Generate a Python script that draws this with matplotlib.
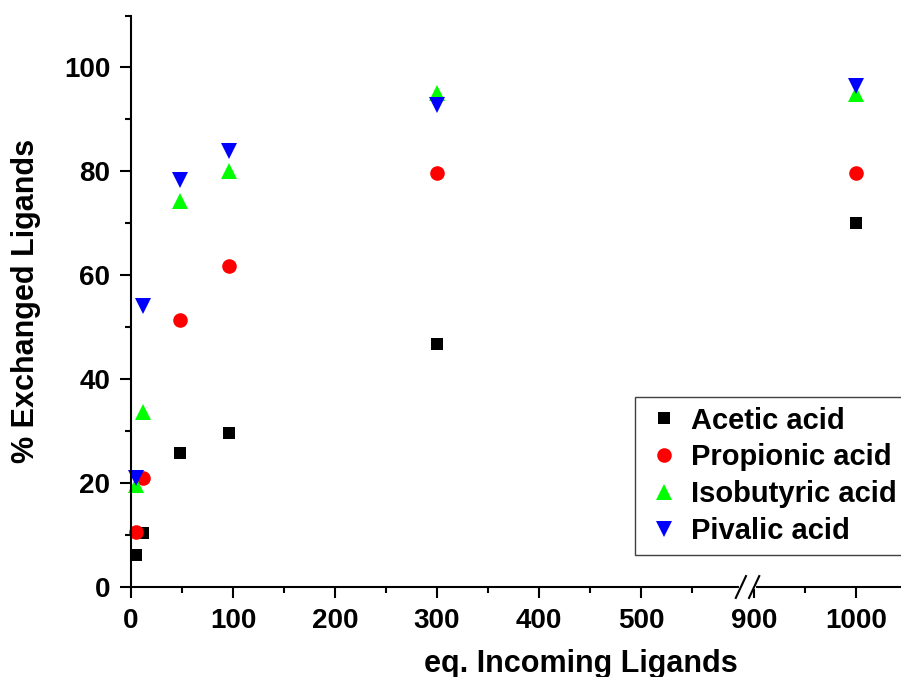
import matplotlib
matplotlib.use('Agg')
import matplotlib.pyplot as plt
from matplotlib.ticker import FixedLocator, MultipleLocator

plt.rcParams['font.family'] = ['Liberation Sans', 'DejaVu Sans']
plt.rcParams['font.weight'] = 'bold'

# data
x_eq = [5, 12, 48, 96, 300, 1000]
acetic = [6.1, 10.4, 25.7, 29.6, 46.8, 70.0]
propionic = [10.5, 20.9, 51.4, 61.8, 79.6, 79.6]
isobutyric = [19.6, 33.6, 74.3, 80.0, 95.1, 94.9]
pivalic = [21.0, 54.1, 78.4, 83.9, 92.8, 96.4]

series = [
    ('Acetic acid', acetic, 's', '#000000', 9.0),
    ('Propionic acid', propionic, 'o', '#ff0000', 10.5),
    ('Isobutyric acid', isobutyric, '^', '#00ff00', 12.0),
    ('Pivalic acid', pivalic, 'v', '#0000ff', 12.0),
]

major_ticks = [0, 100, 200, 300, 400, 500, 900, 1000]
minor_ticks = [50, 150, 250, 350, 450, 550, 950]

# broken x axis: values above the break are shifted left by OFFSET
BREAK_AT = 600
OFFSET = 289


def to_axis(x):
    return x if x <= BREAK_AT else x - OFFSET


fig = plt.figure(figsize=(9.01, 6.77), dpi=100)
ax = fig.add_axes([131 / 901, 90 / 677, 770 / 901, 571.5 / 677])

for name, vals, mk, col, ms in series:
    ax.plot([to_axis(x) for x in x_eq], vals, linestyle='none', marker=mk,
            color=col, markersize=ms, markeredgewidth=0, label=name, clip_on=False)

ax.set_xlim(0, 755)
ax.set_ylim(0, 110)
ax.xaxis.set_major_locator(FixedLocator([to_axis(x) for x in major_ticks]))
ax.set_xticklabels([str(x) for x in major_ticks])
ax.xaxis.set_minor_locator(FixedLocator([to_axis(x) for x in minor_ticks]))
ax.yaxis.set_major_locator(MultipleLocator(20))
ax.yaxis.set_minor_locator(MultipleLocator(10))

for side in ['top', 'right']:
    ax.spines[side].set_visible(False)
for side in ['left', 'bottom']:
    ax.spines[side].set_linewidth(1.5)

ax.tick_params(which='major', direction='out', length=7.8, width=1.5,
               labelsize=20, pad=7)
ax.tick_params(which='minor', direction='out', length=4, width=1.5)

# break marks on the x axis
b1, b2 = 598, 611
ax.plot([b1, b2], [0, 0], color='white', linewidth=3, zorder=3, clip_on=False)
for b in (b1, b2):
    ax.plot([b - 5, b + 5], [-2.1, 2.1], color='black', linewidth=1.5,
            zorder=4, clip_on=False)

ax.set_xlabel('eq. Incoming Ligands', fontsize=22, fontweight='bold')
ax.xaxis.set_label_coords(0.584, -0.108)
ax.set_ylabel('% Exchanged Ligands', fontsize=22, fontweight='bold')
ax.yaxis.set_label_coords(-0.117, 0.5)

leg = fig.legend(loc='upper left', bbox_to_anchor=(635 / 901, 1 - 397 / 677),
                 bbox_transform=fig.transFigure, borderaxespad=0,
                 prop={'size': 21, 'weight': 'bold'}, fancybox=False,
                 framealpha=1, edgecolor='#404040', handlelength=1.3,
                 handletextpad=0.3, labelspacing=0.3, borderpad=0.33)
leg.get_frame().set_linewidth(1.0)

fig.savefig('out.png', dpi=100)
